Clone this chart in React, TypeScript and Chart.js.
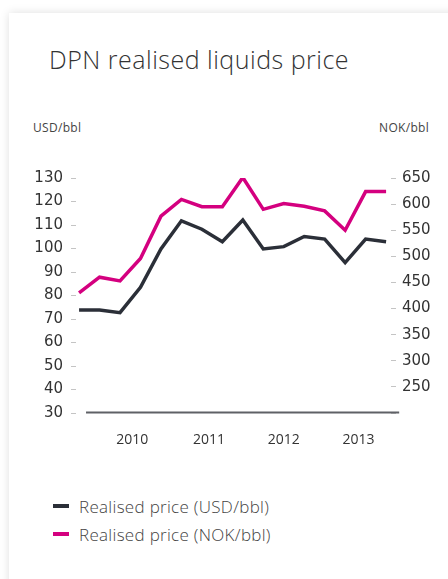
import React, { useEffect, useRef } from "react";
import { Chart, registerables } from "chart.js";

Chart.register(...registerables);

// ---- data ----
const quarterIndex = [0, 1, 2, 3, 4, 5, 6, 7, 8, 9, 10, 11, 12, 13, 14, 15];
const usdPerBbl = [73.8, 73.8, 72.7, 83.5, 99.8, 111.8, 108.2, 102.9, 112.1, 99.8, 100.8, 105.1, 104.0, 94.0, 104.0, 102.9];
const nokPerBbl = [430, 460, 453, 496, 577, 609, 595, 595, 651, 590, 601, 596, 587, 550, 624, 624];
const yearLabels = ["2010", "2011", "2012", "2013"];
const yearTickPositions = [2.6, 6.35, 10.0, 13.65];
const usdAxis = { min: 30, max: 130, step: 10 };
const nokAxis = { min: 200, max: 650, step: 50, hidden: [200] };
const seriesNames = ["Realised price (USD/bbl)", "Realised price (NOK/bbl)"];
const seriesColors = ["#2b2f38", "#d4007f"];
const axisLineRange = [0.34, 15.64];

const FONT = "'Open Sans', 'DejaVu Sans', sans-serif";
const TICK_FONT = "'DejaVu Sans', sans-serif";

const axisLinePlugin = {
  id: "axisLine",
  beforeDatasetsDraw(chart: any) {
    const { ctx, chartArea, scales } = chart;
    const x = scales.x;
    const y = Math.round(chartArea.bottom) - 0.5;
    ctx.save();
    ctx.strokeStyle = "#5f6166";
    ctx.lineWidth = 2;
    ctx.beginPath();
    ctx.moveTo(x.getPixelForValue(axisLineRange[0]), y);
    ctx.lineTo(x.getPixelForValue(axisLineRange[1]), y);
    ctx.stroke();
    ctx.restore();
  },
};

export default function App() {
  const ref = useRef<HTMLCanvasElement | null>(null);

  useEffect(() => {
    if (!ref.current) return;
    const tickFont = { family: TICK_FONT, size: 15 };
    const chart = new Chart(ref.current, {
      type: "line",
      data: {
        datasets: [
          {
            label: seriesNames[0],
            data: usdPerBbl.map((v, i) => ({ x: quarterIndex[i], y: v })),
            borderColor: seriesColors[0],
            backgroundColor: seriesColors[0],
            borderWidth: 3.5,
            pointRadius: 0,
            yAxisID: "y",
          },
          {
            label: seriesNames[1],
            data: nokPerBbl.map((v, i) => ({ x: quarterIndex[i], y: v })),
            borderColor: seriesColors[1],
            backgroundColor: seriesColors[1],
            borderWidth: 3.5,
            pointRadius: 0,
            yAxisID: "y1",
          },
        ],
      },
      options: {
        responsive: false,
        animation: false,
        layout: { padding: { top: 28, left: 0, right: 0, bottom: 0 } },
        plugins: { legend: { display: false }, tooltip: { enabled: false } },
        scales: {
          x: {
            type: "linear",
            min: -0.15,
            max: 15.24,
            grid: { display: false },
            border: { display: false },
            afterBuildTicks: (s: any) => {
              s.ticks = yearTickPositions.map((v) => ({ value: v }));
            },
            afterFit: (s: any) => {
              s.height = 37;
            },
            ticks: {
              autoSkip: false,
              maxRotation: 0,
              padding: 11,
              color: "#333",
              font: { family: FONT, size: 14 },
              callback: (_v: any, i: number) => yearLabels[i],
            },
          },
          y: {
            position: "left",
            min: usdAxis.min,
            max: usdAxis.max,
            border: { display: false },
            grid: { drawOnChartArea: false, drawTicks: true, tickLength: 5, color: "#c4c4c4" },
            afterFit: (s: any) => {
              s.width = 76;
            },
            ticks: { stepSize: usdAxis.step, padding: 8, color: "#333", font: tickFont },
          },
          y1: {
            position: "right",
            min: nokAxis.min,
            max: nokAxis.max,
            border: { display: false },
            grid: { drawOnChartArea: false, drawTicks: true, tickLength: 5, color: "#c4c4c4" },
            afterFit: (s: any) => {
              s.width = 57;
            },
            ticks: {
              stepSize: nokAxis.step,
              padding: 6,
              color: "#333",
              font: tickFont,
              callback: (v: any) => (nokAxis.hidden.includes(v) ? "" : String(v)),
            },
          },
        },
      },
      plugins: [axisLinePlugin],
    } as any);
    return () => chart.destroy();
  }, []);

  return (
    <div style={{ position: "absolute", left: 0, top: 0, width: 448, height: 579, overflow: "hidden", background: "#fff" }}>
      <div
        style={{
          position: "absolute",
          left: 9,
          top: 13,
          width: 480,
          height: 620,
          background: "#fff",
          boxShadow: "0 0 9px rgba(0,0,0,0.13)",
        }}
      />
      <div
        style={{
          position: "absolute",
          left: 49,
          top: 47,
          fontFamily: FONT,
          fontWeight: 300,
          fontSize: 25,
          lineHeight: "25px",
          letterSpacing: 0.5,
          color: "#333",
          whiteSpace: "nowrap",
        }}
      >
        DPN realised liquids price
      </div>
      <div style={{ position: "absolute", left: 33, top: 122, fontFamily: FONT, fontSize: 12, lineHeight: "12px", letterSpacing: 0.3, color: "#444" }}>
        USD/bbl
      </div>
      <div style={{ position: "absolute", right: 19, top: 122, fontFamily: FONT, fontSize: 12, lineHeight: "12px", letterSpacing: 0.3, color: "#444" }}>
        NOK/bbl
      </div>
      <canvas
        ref={ref}
        width={448}
        height={300}
        style={{ position: "absolute", left: 0, top: 150, width: 448, height: 300 }}
      />
      <div style={{ position: "absolute", left: 53, top: 492 }}>
        {seriesNames.map((name, i) => (
          <div key={name} style={{ display: "flex", alignItems: "center", height: 28 }}>
            <span style={{ display: "inline-block", width: 16, height: 4, background: seriesColors[i], marginRight: 10 }} />
            <span style={{ fontFamily: FONT, fontWeight: 300, fontSize: 17, letterSpacing: 0.3, color: "#444", whiteSpace: "nowrap" }}>{name}</span>
          </div>
        ))}
      </div>
    </div>
  );
}
